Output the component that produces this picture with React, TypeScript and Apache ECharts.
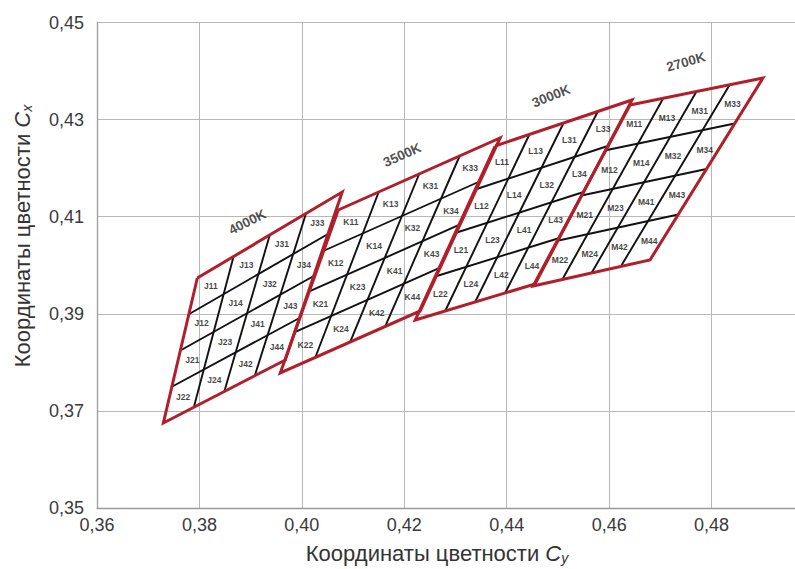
import React, { useEffect, useRef } from 'react';
import * as echarts from 'echarts';

// Axis ranges / ticks
const xTickValues = [0.36, 0.38, 0.40, 0.42, 0.44, 0.46, 0.48, 0.50];
const yTickValues = [0.35, 0.37, 0.39, 0.41, 0.43, 0.45];

// Bin prefixes and nominal CCT names
const binPrefixes = ['J', 'K', 'L', 'M'];
const binCCT = ['4000K', '3500K', '3000K', '2700K'];

// Quadrangle corners [Cy, Cx]: top-left, top-right, bottom-right, bottom-left
const cornersJ = [[0.37959, 0.39737], [0.40788, 0.41509], [0.39676, 0.38048], [0.37296, 0.36751]];
const cornersK = [[0.40710, 0.41138], [0.43871, 0.42621], [0.42310, 0.39058], [0.39579, 0.37781]];
const cornersL = [[0.43774, 0.42456], [0.46447, 0.43404], [0.44554, 0.39614], [0.42213, 0.38872]];
const cornersM = [[0.46408, 0.43301], [0.49003, 0.43857], [0.46798, 0.40108], [0.44515, 0.39573]];
const binCorners = [cornersJ, cornersK, cornersL, cornersM];

// Sub-cell codes, row by row (top to bottom), left to right
const cellCodes = [
  ['11', '13', '31', '33'],
  ['12', '14', '32', '34'],
  ['21', '23', '41', '43'],
  ['22', '24', '42', '44'],
];

// CCT label anchors [Cy, Cx]
const cctLabelPos = [[0.38935, 0.40891], [0.41959, 0.42271], [0.44866, 0.43486], [0.47500, 0.44186]];
const cctLabelAngles = [27, 24, 22, 16];

const fmt = (v: number) => (v > 0.49 ? '' : v.toFixed(2).replace('.', ','));

function bilinear(c: number[][], u: number, v: number): number[] {
  const [tl, tr, br, bl] = c;
  const top = [tl[0] + (tr[0] - tl[0]) * u, tl[1] + (tr[1] - tl[1]) * u];
  const bot = [bl[0] + (br[0] - bl[0]) * u, bl[1] + (br[1] - bl[1]) * u];
  return [top[0] + (bot[0] - top[0]) * v, top[1] + (bot[1] - top[1]) * v];
}

const N = 4;

export default function App() {
  const ref = useRef<HTMLDivElement>(null);
  useEffect(() => {
    if (!ref.current) return;
    const chart = echarts.init(ref.current, null, { renderer: 'svg' });

    const gridLines: any[] = [];
    const outlines: any[] = [];
    const cellLabels: any[] = [];
    binCorners.forEach((c, b) => {
      for (let k = 1; k < N; k++) {
        gridLines.push({ coords: [bilinear(c, k / N, 0), bilinear(c, k / N, 1)] });
        gridLines.push({ coords: [bilinear(c, 0, k / N), bilinear(c, 1, k / N)] });
      }
      outlines.push({ coords: [c[0], c[1], c[2], c[3], c[0]] });
      for (let r = 0; r < N; r++) {
        for (let col = 0; col < N; col++) {
          cellLabels.push({
            name: binPrefixes[b] + cellCodes[r][col],
            value: bilinear(c, (col + 0.5) / N, (r + 0.5) / N),
          });
        }
      }
    });

    const cctData = binCCT.map((name, i) => ({
      name,
      value: cctLabelPos[i],
      label: { rotate: cctLabelAngles[i] },
    }));

    const font = 'Liberation Sans, Arial, sans-serif';
    const titleRich = {
      i: { fontSize: 22, fontStyle: 'italic', fontFamily: font, fill: '#333' },
      s: { fontSize: 14, fontStyle: 'italic', fontFamily: font, fill: '#333', padding: [9, 0, 0, 0] },
    };

    chart.setOption({
      animation: false,
      backgroundColor: '#ffffff',
      grid: { left: 97, top: 22.5, width: 717, height: 485.5, outerBoundsMode: 'none', containLabel: false },
      xAxis: {
        type: 'value',
        min: xTickValues[0],
        max: xTickValues[xTickValues.length - 1],
        interval: 0.02,
        axisLine: { show: true, lineStyle: { color: '#9a9a9a', width: 1.3 } },
        axisTick: { show: false },
        splitLine: { show: true, lineStyle: { color: '#b8b8b8', width: 1 } },
        axisLabel: { formatter: fmt, color: '#3a3a3a', fontSize: 18, margin: 8, fontFamily: font },
      },
      yAxis: {
        type: 'value',
        min: yTickValues[0],
        max: yTickValues[yTickValues.length - 1],
        interval: 0.02,
        axisLine: { show: true, lineStyle: { color: '#9a9a9a', width: 1.3 } },
        axisTick: { show: false },
        splitLine: { show: true, lineStyle: { color: '#b8b8b8', width: 1 } },
        axisLabel: { formatter: fmt, color: '#3a3a3a', fontSize: 18, margin: 13, fontFamily: font },
      },
      graphic: [
        {
          type: 'text',
          x: 437,
          y: 553,
          style: {
            text: 'Координаты цветности {i|C}{s|y}',
            fontSize: 22,
            fontFamily: font,
            fill: '#333',
            align: 'center',
            verticalAlign: 'middle',
            rich: titleRich,
          },
        },
        {
          type: 'text',
          x: 22,
          y: 236,
          rotation: Math.PI / 2,
          style: {
            text: 'Координаты цветности {i|C}{s|x}',
            fontSize: 22,
            fontFamily: font,
            fill: '#333',
            align: 'center',
            verticalAlign: 'middle',
            rich: titleRich,
          },
        },
      ],
      series: [
        {
          type: 'lines',
          coordinateSystem: 'cartesian2d',
          polyline: false,
          silent: true,
          lineStyle: { color: '#111111', width: 1.9, opacity: 1 },
          data: gridLines,
          z: 3,
        },
        {
          type: 'lines',
          coordinateSystem: 'cartesian2d',
          polyline: true,
          silent: true,
          lineStyle: { color: '#b01f2a', width: 3, opacity: 1 },
          data: outlines,
          z: 4,
        },
        {
          type: 'scatter',
          symbolSize: 0,
          silent: true,
          z: 5,
          label: {
            show: true,
            position: 'inside',
            formatter: '{b}',
            fontSize: 8.5,
            fontWeight: 'bold',
            color: '#111',
            fontFamily: font,
          },
          data: cellLabels,
        },
        {
          type: 'scatter',
          symbolSize: 0,
          silent: true,
          z: 5,
          label: {
            show: true,
            position: 'inside',
            formatter: '{b}',
            fontSize: 13.5,
            fontWeight: 'bold',
            color: '#222',
            fontFamily: font,
          },
          data: cctData,
        },
      ],
    });
    return () => chart.dispose();
  }, []);
  return <div ref={ref} style={{ position: 'absolute', left: 0, top: 0, width: 795, height: 569 }} />;
}
